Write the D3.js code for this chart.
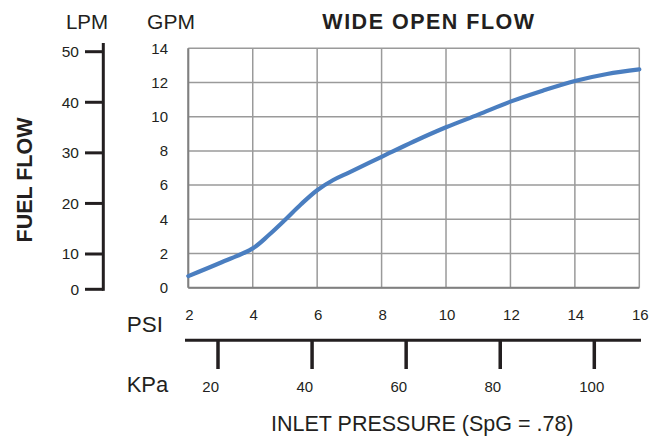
<!DOCTYPE html>
<html>
<head>
<meta charset="utf-8">
<script src="https://cdn.jsdelivr.net/npm/d3@7"></script>
<style>
  html, body { margin: 0; padding: 0; background: #fff; }
  svg { display: block; }
  text { font-family: "Liberation Sans", Arial, sans-serif; fill: #231f20; }
</style>
</head>
<body>
<svg id="chart" width="662" height="436"></svg>
<script>
// ---- data ----
const psi = [2, 3, 4, 4.5, 5, 5.5, 6, 6.5, 7, 8, 9, 10, 11, 12, 13, 14, 15, 16];
const gpm = [0.68, 1.46, 2.3, 3.08, 3.96, 4.88, 5.7, 6.3, 6.75, 7.65, 8.55, 9.38, 10.12, 10.88, 11.52, 12.09, 12.5, 12.77];
const psiTicks = [2, 4, 6, 8, 10, 12, 14, 16];
const gpmTicks = [0, 2, 4, 6, 8, 10, 12, 14];
const lpmTicks = [0, 10, 20, 30, 40, 50];
const kpaTicks = [20, 40, 60, 80, 100];

const svg = d3.select("#chart");

// ---- scales ----
const x = d3.scaleLinear().domain([2, 16]).range([188.3, 639.3]);
const y = d3.scaleLinear().domain([0, 14]).range([287.7, 48.3]);
const yL = d3.scaleLinear().domain([0, 10, 50]).range([289.3, 254, 51.7]);
const xK = d3.scaleLinear().domain([20, 100]).range([218, 594.3]);

// ---- grid ----
const grid = svg.append("g");
grid.selectAll("line.v").data(psiTicks).join("line")
  .attr("x1", d => x(d)).attr("x2", d => x(d))
  .attr("y1", y(14)).attr("y2", y(0))
  .attr("stroke", "#9a9a9a").attr("stroke-width", 1.5);
grid.selectAll("line.h").data(gpmTicks).join("line")
  .attr("x1", x(2)).attr("x2", x(16))
  .attr("y1", d => y(d)).attr("y2", d => y(d))
  .attr("stroke", "#9a9a9a").attr("stroke-width", 1.5);
// darker bottom/left frame
svg.append("line").attr("x1", x(2)).attr("x2", x(16)).attr("y1", y(0)).attr("y2", y(0))
  .attr("stroke", "#808080").attr("stroke-width", 2);
svg.append("line").attr("x1", x(2)).attr("x2", x(2)).attr("y1", y(14)).attr("y2", y(0))
  .attr("stroke", "#808080").attr("stroke-width", 2);

// ---- GPM labels ----
svg.append("g").selectAll("text").data(gpmTicks).join("text")
  .attr("x", 168).attr("y", d => y(d)).attr("dy", "0.35em")
  .attr("text-anchor", "end").attr("font-size", 15)
  .text(d => d);

// ---- PSI labels ----
svg.append("g").selectAll("text").data(psiTicks).join("text")
  .attr("x", d => x(d) + 1).attr("y", 320)
  .attr("text-anchor", "middle").attr("font-size", 15)
  .text(d => d);

// ---- LPM axis ----
const lpm = svg.append("g");
lpm.append("line").attr("x1", 103.3).attr("x2", 103.3).attr("y1", 43).attr("y2", yL(0) + 1.5)
  .attr("stroke", "#231f20").attr("stroke-width", 3);
lpm.selectAll("line.t").data(lpmTicks).join("line")
  .attr("x1", 85).attr("x2", 103.3)
  .attr("y1", d => yL(d)).attr("y2", d => yL(d))
  .attr("stroke", "#231f20").attr("stroke-width", 3);
lpm.selectAll("text").data(lpmTicks).join("text")
  .attr("x", 79).attr("y", d => yL(d)).attr("dy", "0.35em")
  .attr("text-anchor", "end").attr("font-size", 15.5)
  .text(d => d);

// ---- KPa axis ----
const kpa = svg.append("g");
kpa.append("line").attr("x1", 185).attr("x2", 641).attr("y1", 340.3).attr("y2", 340.3)
  .attr("stroke", "#231f20").attr("stroke-width", 3);
kpa.selectAll("line.t").data(kpaTicks).join("line")
  .attr("x1", d => xK(d)).attr("x2", d => xK(d))
  .attr("y1", 340.3).attr("y2", 369)
  .attr("stroke", "#231f20").attr("stroke-width", 3.5);
kpa.selectAll("text").data(kpaTicks).join("text")
  .attr("x", d => d === 100 ? xK(d) + 10 : xK(d) + 1).attr("y", 391.7)
  .attr("text-anchor", "end").attr("font-size", 15)
  .text(d => d);

// ---- curve ----
const line = d3.line()
  .x((d, i) => x(psi[i]))
  .y(d => y(d))
  .curve(d3.curveCatmullRom.alpha(0.5));
svg.append("path").datum(gpm)
  .attr("d", line)
  .attr("fill", "none")
  .attr("stroke", "#4a7ec0")
  .attr("stroke-width", 4.2)
  .attr("stroke-linecap", "round");

// ---- titles ----
svg.append("text").attr("x", 429).attr("y", 28.5).attr("text-anchor", "middle")
  .attr("font-size", 21.5).attr("font-weight", "bold").attr("letter-spacing", 1.5)
  .text("WIDE OPEN FLOW");
svg.append("text").attr("x", 87).attr("y", 29.3).attr("text-anchor", "middle")
  .attr("font-size", 20.5).text("LPM");
svg.append("text").attr("x", 171).attr("y", 29.3).attr("text-anchor", "middle")
  .attr("font-size", 21).text("GPM");
svg.append("text").attr("transform", "translate(31.7,180) rotate(-90)")
  .attr("text-anchor", "middle").attr("font-size", 21.5).attr("font-weight", "bold")
  .text("FUEL FLOW");
svg.append("text").attr("x", 126.7).attr("y", 331.7)
  .attr("font-size", 22.5).text("PSI");
svg.append("text").attr("x", 126.7).attr("y", 391.7)
  .attr("font-size", 22).text("KPa");
svg.append("text").attr("x", 422.3).attr("y", 430.5).attr("text-anchor", "middle")
  .attr("font-size", 21.5).text("INLET PRESSURE (SpG = .78)");
</script>
</body>
</html>
